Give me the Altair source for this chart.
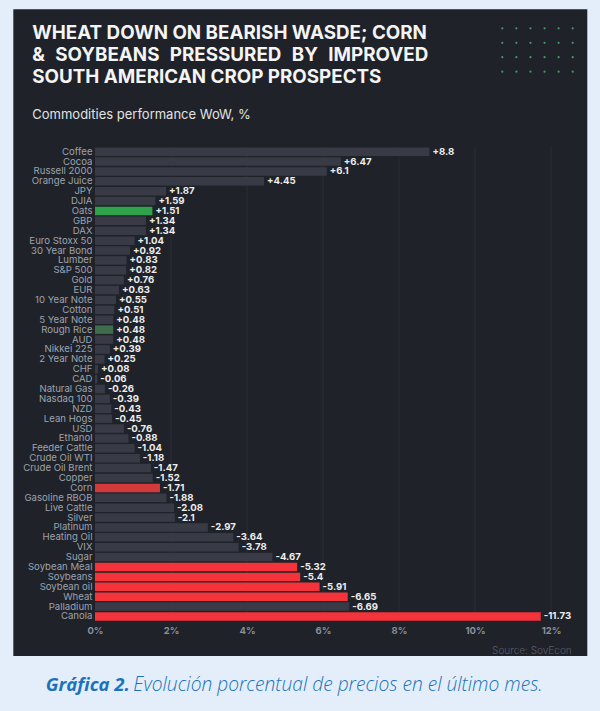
import altair as alt
import pandas as pd

# ---------------- data ----------------
commodities = [
    "Coffee", "Cocoa", "Russell 2000", "Orange Juice", "JPY", "DJIA", "Oats", "GBP",
    "DAX", "Euro Stoxx 50", "30 Year Bond", "Lumber", "S&P 500", "Gold", "EUR",
    "10 Year Note", "Cotton", "5 Year Note", "Rough Rice", "AUD", "Nikkei 225",
    "2 Year Note", "CHF", "CAD", "Natural Gas", "Nasdaq 100", "NZD", "Lean Hogs",
    "USD", "Ethanol", "Feeder Cattle", "Crude Oil WTI", "Crude Oil Brent", "Copper",
    "Corn", "Gasoline RBOB", "Live Cattle", "Silver", "Platinum", "Heating Oil",
    "VIX", "Sugar", "Soybean Meal", "Soybeans", "Soybean oil", "Wheat", "Palladium",
    "Canola",
]
changes = [
    8.8, 6.47, 6.1, 4.45, 1.87, 1.59, 1.51, 1.34,
    1.34, 1.04, 0.92, 0.83, 0.82, 0.76, 0.63,
    0.55, 0.51, 0.48, 0.48, 0.48, 0.39,
    0.25, 0.08, -0.06, -0.26, -0.39, -0.43, -0.45,
    -0.76, -0.88, -1.04, -1.18, -1.47, -1.52,
    -1.71, -1.88, -2.08, -2.1, -2.97, -3.64,
    -3.78, -4.67, -5.32, -5.4, -5.91, -6.65, -6.69,
    -11.73,
]
highlight_groups = {
    "Oats": "grain_up",
    "Rough Rice": "grain_up_dim",
    "Corn": "grain_down_dim",
    "Soybean Meal": "grain_down",
    "Soybeans": "grain_down",
    "Soybean oil": "grain_down",
    "Wheat": "grain_down",
    "Canola": "grain_down",
}
tick_values = [0, 2, 4, 6, 8, 10, 12]
dot_cols = [0, 1, 2, 3, 4, 5]
dot_rows = [0, 1, 2, 3]

GAP = "\u00a0\u00a0\u200a"
title_lines = [
    "WHEAT DOWN ON BEARISH WASDE; CORN",
    GAP.join(["&", "SOYBEANS", "PRESSURED", "BY", "IMPROVED"]),
    "SOUTH AMERICAN CROP PROSPECTS",
]
subtitle = "Commodities performance WoW, %"
source_note = "Source: SovEcon"
caption_bold = "Gráfica 2."
caption_rest = "Evolución porcentual de precios en el último mes."

# ---------------- styles ----------------
BG_OUT = "#e3eefa"
BG_PANEL = "#1f2229"
GRID = "#2a2d36"
group_domain = ["base", "grain_up", "grain_up_dim", "grain_down_dim", "grain_down"]
group_range = ["#383b46", "#2fa24c", "#3e6c4c", "#d23a3c", "#f5333b"]

df = pd.DataFrame({"name": commodities, "change": changes})
df["group"] = [highlight_groups.get(n, "base") for n in commodities]
df["label"] = [f"{v:+g}" for v in changes]

one = pd.DataFrame({"k": [0]})

W = 456
H = 474.7

panel = alt.Chart(one).mark_rect(color=BG_PANEL).encode(
    x=alt.value(-81.7), x2=alt.value(492.3), y=alt.value(-137.4), y2=alt.value(509.3)
)

grid = alt.Chart(pd.DataFrame({"t": tick_values[1:]})).mark_rule(
    color=GRID, strokeWidth=1
).encode(x=alt.X("t:Q"))

base = alt.Chart(df).transform_calculate(absval="abs(datum.change)")

y_enc = alt.Y(
    "name:N",
    sort=None,
    scale=alt.Scale(paddingInner=0.14, paddingOuter=0.07),
    axis=alt.Axis(
        title=None, domain=False, ticks=False, labelPadding=3,
        labelFont="Inter", labelFontSize=9.6, labelColor="#9ea2ae", zindex=1,
    ),
)
x_enc = alt.X(
    "absval:Q",
    scale=alt.Scale(domain=[0, 12], nice=False, zero=True),
    axis=alt.Axis(
        title=None, values=tick_values, labelExpr="datum.value + '%'",
        grid=False, domain=False, ticks=False, labelPadding=4, labelFlush=False,
        labelFont="Inter", labelFontSize=9.5, labelFontWeight="bold",
        labelColor="#8a8f99", zindex=1,
    ),
)

bars = base.mark_bar().encode(
    x=x_enc,
    y=y_enc,
    color=alt.Color("group:N", scale=alt.Scale(domain=group_domain, range=group_range), legend=None),
)

values = base.mark_text(
    align="left", baseline="middle", dx=3, font="Inter", fontSize=9.6,
    fontWeight="bold", color="#eeeeee",
).encode(x="absval:Q", y=alt.Y("name:N", sort=None), text="label:N")

dots_df = pd.DataFrame([(c, r) for r in dot_rows for c in dot_cols], columns=["c", "r"])
dots = alt.Chart(dots_df).transform_calculate(
    px="407.3 + datum.c * 14.08", py="-118.4 + datum.r * 14.47"
).mark_circle(size=5, color="#43a86a", opacity=0.9).encode(
    x=alt.X("px:Q", scale=None, axis=None), y=alt.Y("py:Q", scale=None, axis=None)
)

title_txt = alt.Chart(one).mark_text(
    align="left", baseline="alphabetic", font="Inter", fontSize=18.8,
    fontWeight="bold", color="#f4f4f4", lineHeight=21.7,
).encode(x=alt.value(-62.7), y=alt.value(-107.4), text=alt.value(title_lines))

subtitle_txt = alt.Chart(one).mark_text(
    align="left", baseline="alphabetic", font="Inter", fontSize=13, color="#e2e2e2",
).encode(x=alt.value(-62.7), y=alt.value(-28.2), text=alt.value(subtitle))

source_txt = alt.Chart(one).mark_text(
    align="right", baseline="alphabetic", font="Inter", fontSize=10,
    fontWeight=300, color="#5a5f6b",
).encode(x=alt.value(476.7), y=alt.value(506.8), text=alt.value(source_note))

cap_bold = alt.Chart(one).mark_text(
    align="left", baseline="alphabetic", font="Open Sans", fontSize=18.5,
    fontWeight="bold", fontStyle="italic", color="#1b72bb",
).encode(x=alt.value(-49.3), y=alt.value(544), text=alt.value(caption_bold))

cap_rest = alt.Chart(one).mark_text(
    align="left", baseline="alphabetic", font="Open Sans", fontSize=19.2,
    fontWeight=300, fontStyle="italic", color="#1b72bb",
).encode(x=alt.value(38.3), y=alt.value(544), text=alt.value(caption_rest))

chart = alt.layer(
    panel, grid, bars, values, dots, title_txt, subtitle_txt, source_txt, cap_bold, cap_rest
).properties(
    width=W,
    height=H,
    padding={"left": 95, "top": 146.7, "right": 49, "bottom": 89.6},
    autosize=alt.AutoSizeParams(type="none"),
    background=BG_OUT,
).configure_view(stroke=None)

chart.save("out.html", embed_options={"renderer": "svg", "actions": False})
